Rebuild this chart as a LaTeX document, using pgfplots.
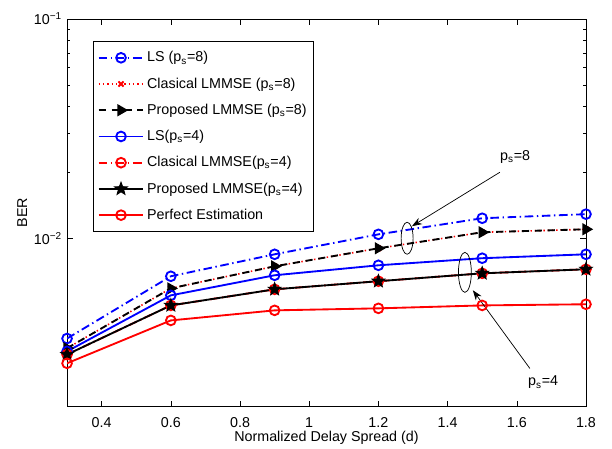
\documentclass[border=0pt]{standalone}
\usepackage{fontspec}
\setmainfont{Liberation Sans}
\usepackage{pgfplots}
\pgfplotsset{compat=1.18}
\usetikzlibrary{calc,plotmarks,arrows.meta}

\pgfdeclareplotmark{fstar}{%
  \pgfpathmoveto{\pgfpointpolar{90}{\pgfplotmarksize}}%
  \pgfpathlineto{\pgfpointpolar{126}{0.42\pgfplotmarksize}}%
  \pgfpathlineto{\pgfpointpolar{162}{\pgfplotmarksize}}%
  \pgfpathlineto{\pgfpointpolar{198}{0.42\pgfplotmarksize}}%
  \pgfpathlineto{\pgfpointpolar{234}{\pgfplotmarksize}}%
  \pgfpathlineto{\pgfpointpolar{270}{0.42\pgfplotmarksize}}%
  \pgfpathlineto{\pgfpointpolar{306}{\pgfplotmarksize}}%
  \pgfpathlineto{\pgfpointpolar{342}{0.42\pgfplotmarksize}}%
  \pgfpathlineto{\pgfpointpolar{18}{\pgfplotmarksize}}%
  \pgfpathlineto{\pgfpointpolar{54}{0.42\pgfplotmarksize}}%
  \pgfpathclose
  \pgfusepathqfillstroke
}

\definecolor{mblue}{rgb}{0,0,1}
\definecolor{mred}{rgb}{1,0,0}

\begin{document}
\begin{tikzpicture}
\begin{axis}[
    scale only axis,
    width=363pt,
    height=271pt,
    ymode=log,
    xmin=0.3, xmax=1.8,
    ymin=0.00171, ymax=0.1,
    xtick={0.4,0.6,...,1.8},
    ytick={0.01,0.1},
    yticklabels={10\textsuperscript{−2},10\textsuperscript{−1}},
    /pgf/number format/assume math mode=true,
    tick align=inside,
    major tick length=4pt,
    minor tick length=2pt,
    tick style={black, line width=0.4pt},
    axis line style={line width=0.6pt},
    xticklabel style={yshift=-4pt},
    xlabel={Normalized Delay Spread (d)},
    ylabel={BER},
    xlabel style={yshift=4pt},
    ylabel style={yshift=-2pt},
    legend cell align=left,
    legend style={
        at={(rel axis cs:0.05,0.943)}, anchor=north west,
        draw=black, line width=0.6pt,
        row sep=5.6pt, inner xsep=3pt, inner ysep=5pt,
        font=\fontsize{10}{12}\selectfont,
    },
    legend image code/.code={
        \draw[mark repeat=2,mark phase=2] plot coordinates {(0cm,0cm) (0.55cm,0cm) (1.1cm,0cm)};
    },
    mark size=3.4pt,
]
\addplot[draw=mblue, color=mblue, line width=1.3pt, dash pattern=on 6pt off 2.5pt on 1pt off 2.5pt,
    mark=o, mark options={solid, line width=1.3pt}]
    coordinates {(0.3,0.00349) (0.6,0.00671) (0.9,0.00845) (1.2,0.01042) (1.5,0.01234) (1.8,0.01288)};
\addlegendentry{LS (p\textsubscript{s}=8)}

\addplot[draw=mred, color=mred, line width=1.1pt, dash pattern=on 1pt off 2pt,
    mark=x, mark options={solid, line width=1.3pt}, mark size=2.5pt]
    coordinates {(0.3,0.00315) (0.6,0.00591) (0.9,0.00745) (1.2,0.00900) (1.5,0.01065) (1.8,0.01099)};
\addlegendentry{Clasical LMMSE (p\textsubscript{s}=8)}

\addplot[black, line width=1.3pt, dash pattern=on 5pt off 4pt,
    mark=triangle*, mark options={solid, rotate=-90}, mark size=3.7pt]
    coordinates {(0.3,0.00315) (0.6,0.00591) (0.9,0.00745) (1.2,0.00900) (1.5,0.01065) (1.8,0.01099)};
\addlegendentry{Proposed LMMSE (p\textsubscript{s}=8)}

\addplot[draw=mblue, color=mblue, line width=1.3pt, solid,
    mark=o, mark options={solid, line width=1.3pt}]
    coordinates {(0.3,0.00305) (0.6,0.00549) (0.9,0.00678) (1.2,0.00753) (1.5,0.00811) (1.8,0.00845)};
\addlegendentry{LS(p\textsubscript{s}=4)}

\addplot[draw=mred, color=mred, line width=1.3pt, dash pattern=on 6pt off 2.5pt on 1pt off 2.5pt,
    mark=o, mark options={solid, line width=1.3pt}]
    coordinates {(0.3,0.00295) (0.6,0.00494) (0.9,0.00585) (1.2,0.00637) (1.5,0.00692) (1.8,0.00722)};
\addlegendentry{Clasical LMMSE(p\textsubscript{s}=4)}

\addplot[black, line width=1.3pt, solid,
    mark=fstar, mark options={solid, line width=0.6pt}, mark size=4.7pt]
    coordinates {(0.3,0.00295) (0.6,0.00494) (0.9,0.00585) (1.2,0.00637) (1.5,0.00692) (1.8,0.00722)};
\addlegendentry{Proposed LMMSE(p\textsubscript{s}=4)}

\addplot[draw=mred, color=mred, line width=1.3pt, solid,
    mark=o, mark options={solid, line width=1.3pt}]
    coordinates {(0.3,0.00269) (0.6,0.00422) (0.9,0.00469) (1.2,0.00479) (1.5,0.00494) (1.8,0.00500)};
\addlegendentry{Perfect Estimation}

% annotations
\draw[black, line width=0.5pt] (axis cs:1.283,0.0100) ellipse [x radius=4.2pt, y radius=11.2pt];
\draw[black, line width=0.5pt] (axis cs:1.450,0.00699) ellipse [x radius=4.5pt, y radius=14pt];
\draw[black, line width=0.5pt, -{Stealth[length=7pt,width=5pt]}] (axis cs:1.551,0.0200) -- (axis cs:1.297,0.01135);
\draw[black, line width=0.5pt, -{Stealth[length=7pt,width=5pt]}] (axis cs:1.638,0.002546) -- (axis cs:1.473,0.005794);
\node[font=\fontsize{10}{12}\selectfont] at (axis cs:1.595,0.02344) {p\textsubscript{s}=8};
\node[font=\fontsize{10}{12}\selectfont] at (axis cs:1.676,0.002198) {p\textsubscript{s}=4};

\coordinate (bl) at (rel axis cs:0,0);
\coordinate (tr) at (rel axis cs:1,1);
\end{axis}
\pgfresetboundingbox
\useasboundingbox ($(bl)+(-46.9pt,-29.4pt)$) rectangle ($(tr)+(18.2pt,13.3pt)$);
\end{tikzpicture}
\end{document}
